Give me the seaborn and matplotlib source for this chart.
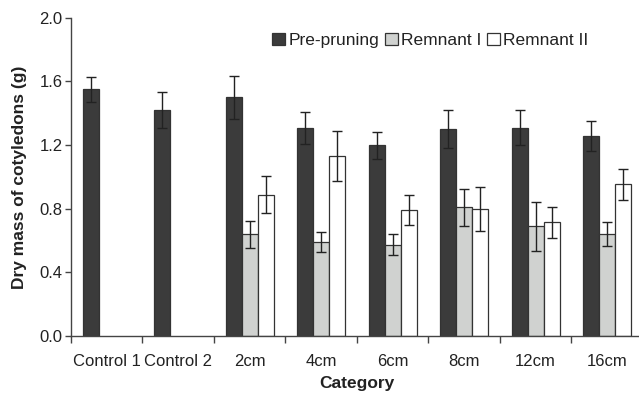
import numpy as np
import matplotlib
matplotlib.use("Agg")
import matplotlib.pyplot as plt
import seaborn as sns
import pandas as pd

categories = ['Control 1', 'Control 2', '2cm', '4cm', '6cm', '8cm', '12cm', '16cm']
series = ['Pre-pruning', 'Remnant I', 'Remnant II']

pre_pruning = [1.55, 1.42, 1.50, 1.31, 1.20, 1.30, 1.31, 1.26]
pre_err = [0.08, 0.115, 0.135, 0.10, 0.085, 0.12, 0.11, 0.094]
remnant_1 = [np.nan, np.nan, 0.64, 0.59, 0.575, 0.81, 0.69, 0.643]
rem1_err = [np.nan, np.nan, 0.085, 0.065, 0.067, 0.117, 0.153, 0.075]
remnant_2 = [np.nan, np.nan, 0.888, 1.13, 0.79, 0.80, 0.714, 0.953]
rem2_err = [np.nan, np.nan, 0.117, 0.157, 0.095, 0.138, 0.10, 0.096]

colors = ['#3b3b3b', '#d0d2d0', '#ffffff']

rows = []
for s, vals, errs in zip(series, [pre_pruning, remnant_1, remnant_2], [pre_err, rem1_err, rem2_err]):
    for c, v, e in zip(categories, vals, errs):
        rows.append({'Category': c, 'Series': s, 'Value': v, 'Err': e})
df = pd.DataFrame(rows)

sns.set_style('ticks')
plt.rcParams['font.family'] = ['Liberation Sans', 'DejaVu Sans']

fig = plt.figure(figsize=(6.39, 3.96), dpi=100)
ax = fig.add_axes([0.111, 0.1515, 0.895, 0.8035])

sns.barplot(data=df, x='Category', y='Value', hue='Series', order=categories,
            hue_order=series, palette=colors, width=0.67, errorbar=None,
            edgecolor='#333333', linewidth=0.9, ax=ax)

# error bars
for s, cont in zip(series, ax.containers):
    sub = df[(df['Series'] == s)].set_index('Category').loc[categories]
    sub = sub[sub['Value'].notna()]
    for bar, (_, r) in zip(cont, sub.iterrows()):
        xc = bar.get_x() + bar.get_width() / 2
        ax.errorbar(xc, r['Value'], yerr=r['Err'], color='#222222',
                    elinewidth=1.0, capsize=3.5, capthick=1.0, zorder=5)

ax.set_ylim(0, 2.0)
ax.set_yticks(np.arange(0, 2.01, 0.4))
ax.set_yticklabels([f'{v:.1f}' for v in np.arange(0, 2.01, 0.4)])
ax.set_xlim(-0.5, len(categories) - 0.5)
ax.set_xticks(np.arange(-0.5, len(categories) - 0.4, 1))
ax.set_xticklabels([])
ax.set_xticks(np.arange(len(categories)), minor=True)
ax.set_xticklabels(categories, minor=True)
ax.tick_params(axis='x', which='minor', length=0, pad=13, labelsize=12, labelcolor='#222222')
ax.tick_params(axis='x', which='major', length=5, width=1, color='#444444')
ax.tick_params(axis='y', length=4, width=1, color='#444444', labelsize=12, pad=2,
               labelcolor='#222222')

for sp in ['top', 'right']:
    ax.spines[sp].set_visible(False)
for sp in ['left', 'bottom']:
    ax.spines[sp].set_color('#444444')
    ax.spines[sp].set_linewidth(1)

ax.set_xlabel('Category', fontsize=12.5, fontweight='bold', labelpad=5, color='#222222')
ax.set_ylabel('Dry mass of cotyledons (g)', fontsize=12.5, fontweight='bold', labelpad=9,
              color='#222222')

ax.legend(loc='upper left', bbox_to_anchor=(0.34, 0.975), ncol=3, frameon=False,
          handlelength=0.75, handleheight=0.75, handletextpad=0.2,
          columnspacing=0.3, fontsize=12.5, borderaxespad=0, labelcolor='#222222')

fig.savefig('out.png', dpi=100)
